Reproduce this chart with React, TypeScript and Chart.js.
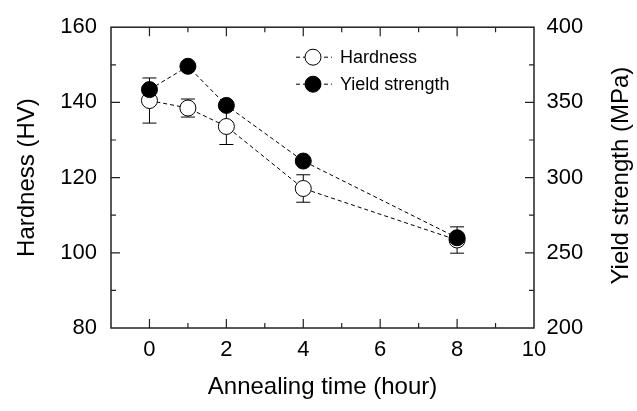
import React, { useEffect, useRef } from "react";
import { Chart, registerables } from "chart.js";

Chart.register(...registerables);

const times = [0, 1, 2, 4, 8];
const hardness = [140.5, 138.5, 133.6, 117.1, 103.4];
const hardnessErr = [6, 2.4, 4.8, 3.65, 3.5];
const yieldStrength = [358.5, 374, 348, 311, 260];

const xTickLabels = ["0", "2", "4", "6", "8", "10"];
const rightTitle = "Yield strength (MPa)";
const FONT = "'Liberation Sans', Arial, sans-serif";
const AXIS_COLOR = "#222";

const errorBarPlugin = {
  id: "errorBars",
  beforeDatasetsDraw(chart: any) {
    const ctx = chart.ctx;
    const xs = chart.scales.x;
    const ys = chart.scales.y;
    ctx.save();
    ctx.strokeStyle = "#000";
    ctx.lineWidth = 1;
    times.forEach((t, i) => {
      const px = xs.getPixelForValue(t);
      const top = ys.getPixelForValue(hardness[i] + hardnessErr[i]);
      const bot = ys.getPixelForValue(hardness[i] - hardnessErr[i]);
      ctx.beginPath();
      ctx.moveTo(px, top);
      ctx.lineTo(px, bot);
      ctx.moveTo(px - 7, top);
      ctx.lineTo(px + 7, top);
      ctx.moveTo(px - 7, bot);
      ctx.lineTo(px + 7, bot);
      ctx.stroke();
    });
    ctx.restore();
  },
};

const framePlugin = {
  id: "frame",
  afterDraw(chart: any) {
    const ctx = chart.ctx;
    const { left, right, top, bottom } = chart.chartArea;
    const xs = chart.scales.x;
    const ys = chart.scales.y;
    const y2 = chart.scales.y2;
    ctx.save();
    ctx.strokeStyle = AXIS_COLOR;
    ctx.lineWidth = 1.5;
    ctx.strokeRect(left, top, right - left, bottom - top);
    ctx.lineWidth = 1.2;
    ctx.beginPath();
    for (let v = 0; v <= 9; v++) {
      const px = xs.getPixelForValue(v);
      const len = v % 2 === 0 ? 9 : 5;
      ctx.moveTo(px, bottom);
      ctx.lineTo(px, bottom - len);
      ctx.moveTo(px, top);
      ctx.lineTo(px, top + len);
    }
    for (let v = 90; v < 160; v += 10) {
      const py = ys.getPixelForValue(v);
      const len = v % 20 === 0 ? 9 : 5;
      ctx.moveTo(left, py);
      ctx.lineTo(left + len, py);
    }
    for (let v = 225; v < 400; v += 25) {
      const py = y2.getPixelForValue(v);
      const len = v % 50 === 0 ? 9 : 5;
      ctx.moveTo(right, py);
      ctx.lineTo(right - len, py);
    }
    ctx.stroke();

    // right axis title, reading bottom-to-top like the left one
    ctx.save();
    ctx.translate(621, (top + bottom) / 2 - 2);
    ctx.rotate(-Math.PI / 2);
    ctx.fillStyle = "#000";
    ctx.font = `24px ${FONT}`;
    ctx.textAlign = "center";
    ctx.textBaseline = "middle";
    ctx.fillText(rightTitle, 0, 0);
    ctx.restore();

    const entries = [
      { label: "Hardness", fill: "#fff", y: top + 30 },
      { label: "Yield strength", fill: "#000", y: top + 57 },
    ];
    entries.forEach((e) => {
      const mx = 313;
      ctx.setLineDash([4, 3]);
      ctx.lineWidth = 1;
      ctx.strokeStyle = "#000";
      ctx.beginPath();
      ctx.moveTo(296, e.y);
      ctx.lineTo(332, e.y);
      ctx.stroke();
      ctx.setLineDash([]);
      ctx.beginPath();
      ctx.arc(mx, e.y, 8, 0, Math.PI * 2);
      ctx.fillStyle = e.fill;
      ctx.fill();
      ctx.stroke();
      ctx.fillStyle = "#000";
      ctx.font = `18px ${FONT}`;
      ctx.textBaseline = "middle";
      ctx.textAlign = "left";
      ctx.fillText(e.label, 340, e.y + 1);
    });
    ctx.restore();
  },
};

export default function App() {
  const ref = useRef<HTMLCanvasElement | null>(null);
  useEffect(() => {
    document.body.style.margin = "0";
    const chart = new Chart(ref.current as HTMLCanvasElement, {
      type: "line",
      data: {
        datasets: [
          {
            label: "Yield strength",
            data: times.map((t, i) => ({ x: t, y: yieldStrength[i] })),
            yAxisID: "y2",
            borderColor: "#000",
            borderWidth: 1,
            borderDash: [4, 3],
            pointRadius: 8,
            pointBackgroundColor: "#000",
            pointBorderColor: "#000",
            pointBorderWidth: 1,
            fill: false,
            tension: 0,
          },
          {
            label: "Hardness",
            data: times.map((t, i) => ({ x: t, y: hardness[i] })),
            yAxisID: "y",
            borderColor: "#000",
            borderWidth: 1,
            borderDash: [4, 3],
            pointRadius: 8,
            pointBackgroundColor: "#fff",
            pointBorderColor: "#000",
            pointBorderWidth: 1,
            fill: false,
            tension: 0,
          },
        ],
      },
      options: {
        animation: false,
        responsive: false,
        maintainAspectRatio: false,
        layout: { padding: { top: 24, bottom: 0, left: 0, right: 0 } },
        plugins: { legend: { display: false }, tooltip: { enabled: false } },
        scales: {
          x: {
            type: "linear",
            min: -1,
            max: 10,
            border: { display: false },
            grid: { display: false, drawTicks: false },
            ticks: {
              stepSize: 1,
              autoSkip: false,
              maxRotation: 0,
              padding: 9,
              color: "#000",
              font: { family: FONT, size: 22 },
              callback: (v: any) => {
                const s = String(v);
                return xTickLabels.includes(s) ? s : "";
              },
            },
            title: {
              display: true,
              text: "Annealing time (hour)",
              color: "#000",
              font: { family: FONT, size: 24 },
              padding: { top: 0, bottom: 9 },
            },
            afterFit: (s: any) => {
              s.height = 83;
            },
          },
          y: {
            type: "linear",
            position: "left",
            min: 80,
            max: 160,
            border: { display: false },
            grid: { display: false, drawTicks: false },
            ticks: {
              stepSize: 20,
              padding: 14,
              color: "#000",
              font: { family: FONT, size: 22 },
            },
            title: {
              display: true,
              text: "Hardness (HV)",
              color: "#000",
              font: { family: FONT, size: 24 },
              padding: { top: 12.5, bottom: 0 },
            },
            afterFit: (s: any) => {
              s.width = 111;
            },
          },
          y2: {
            type: "linear",
            position: "right",
            min: 200,
            max: 400,
            border: { display: false },
            grid: { display: false, drawTicks: false },
            ticks: {
              stepSize: 50,
              padding: 12.5,
              color: "#000",
              font: { family: FONT, size: 22 },
            },
            title: { display: false },
            afterFit: (s: any) => {
              s.width = 103;
            },
          },
        },
      },
      plugins: [errorBarPlugin, framePlugin],
    } as any);
    return () => chart.destroy();
  }, []);
  return (
    <div style={{ position: "absolute", left: 0, top: 0, width: 637, height: 411 }}>
      <canvas ref={ref} width={637} height={411} style={{ width: 637, height: 411 }} />
    </div>
  );
}
